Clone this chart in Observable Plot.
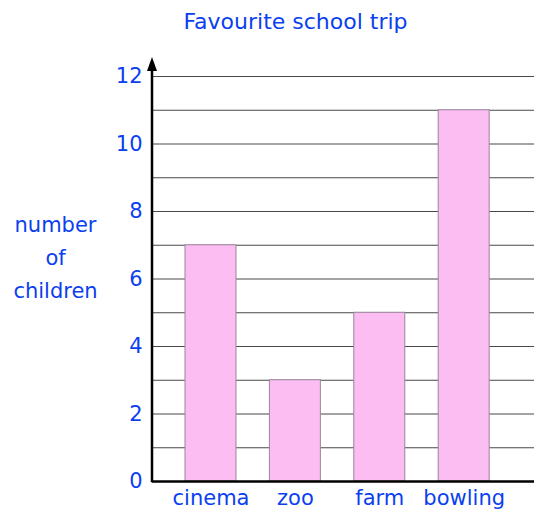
<!DOCTYPE html>
<html>
<head>
<meta charset="utf-8">
<script src="https://cdn.jsdelivr.net/npm/d3@7"></script>
<script src="https://cdn.jsdelivr.net/npm/@observablehq/plot@0.6"></script>
<style>
  html, body { margin: 0; padding: 0; background: #fff; }
  #chart svg { display: block; }
</style>
</head>
<body>
<div id="chart"></div>
<script>
const trips = ["cinema", "zoo", "farm", "bowling"];
const counts = [7, 3, 5, 11];
const yTicks = [0, 2, 4, 6, 8, 10, 12];
const gridValues = [1, 2, 3, 4, 5, 6, 7, 8, 9, 10, 11, 12];
const titleText = "Favourite school trip";
const yLabelText = "number\nof\nchildren";

const data = trips.map((t, i) => ({trip: t, count: counts[i]}));
const blue = "#0b3ff0";
const font = "DejaVu Sans, sans-serif";

const plot = Plot.plot({
  width: 534,
  height: 514,
  marginLeft: 152,
  marginRight: 0,
  marginTop: 76,
  marginBottom: 33,
  style: {fontFamily: font, color: blue, background: "#fff", overflow: "visible"},
  x: {domain: trips, paddingInner: 0.396, paddingOuter: 0.461, align: 0.424, round: false, label: null},
  y: {domain: [0, 12], label: null},
  marks: [
    Plot.ruleY(gridValues, {stroke: "#484848", strokeWidth: 1.1}),
    Plot.barY(data, {x: "trip", y: "count", fill: "#fbbdf2", stroke: "#9a869a", strokeWidth: 1}),
    Plot.ruleY([0], {stroke: "#000", strokeWidth: 2.5}),
    Plot.axisY({ticks: yTicks, tickSize: 0, tickPadding: 10, fontSize: 21, fill: blue, label: null}),
    Plot.axisX({tickSize: 0, tickPadding: 9, fontSize: 21, fill: blue, label: null}),
    Plot.text([titleText], {frameAnchor: "top", lineAnchor: "middle", dy: -55, dx: -48, fontSize: 22, fill: blue}),
    Plot.text([yLabelText], {y: 6.72, frameAnchor: "left", dx: -97, textAnchor: "middle", fontSize: 21, lineHeight: 1.57, fill: blue})
  ]
});

// vertical axis line with arrow, positioned with the plot's own y scale
const y = plot.scale("y");
const x0 = 152;
const yBottom = y.apply(0) + 1.25;
const yTop = y.apply(12) - 19;
const svg = d3.select(plot);
svg.append("line")
  .attr("x1", x0).attr("x2", x0)
  .attr("y1", yBottom).attr("y2", yTop + 10)
  .attr("stroke", "#000").attr("stroke-width", 2.5);
svg.append("path")
  .attr("d", `M${x0},${yTop} L${x0 - 5},${yTop + 14} L${x0 + 5},${yTop + 14} Z`)
  .attr("fill", "#000");

document.getElementById("chart").appendChild(plot);
</script>
</body>
</html>
